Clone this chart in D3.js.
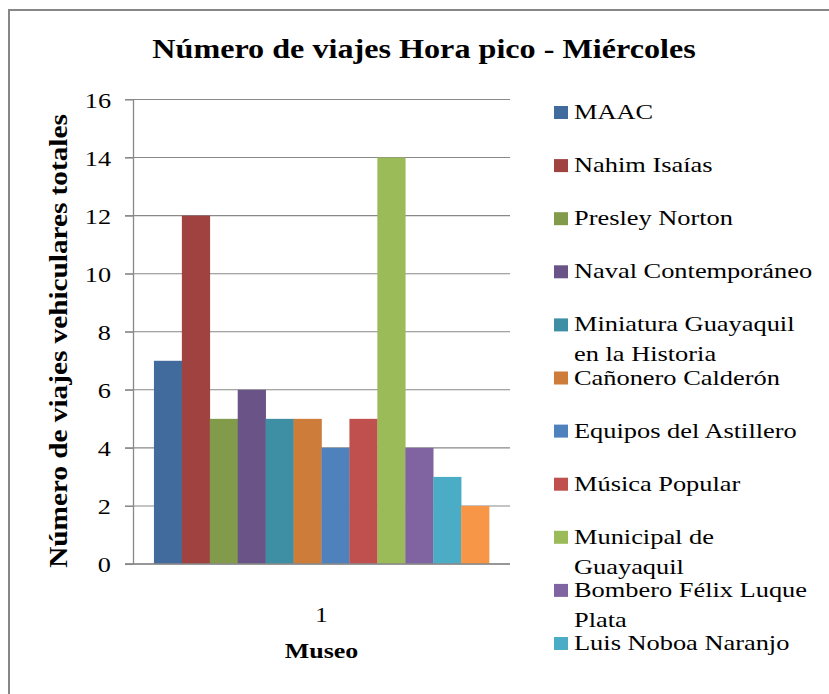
<!DOCTYPE html>
<html>
<head>
<meta charset="utf-8">
<script src="https://cdn.jsdelivr.net/npm/d3@7"></script>
<style>
  html, body { margin: 0; padding: 0; background: #fff; }
  svg { display: block; }
  text { font-family: "Liberation Serif", "Times New Roman", serif; fill: #000; }
</style>
</head>
<body>
<svg id="chart" width="829" height="694"></svg>
<script>
// ---- data ----
const categories = ["1"];
const seriesNames = [
  "MAAC",
  "Nahim Isaías",
  "Presley Norton",
  "Naval Contemporáneo",
  "Miniatura Guayaquil en la Historia",
  "Cañonero Calderón",
  "Equipos del Astillero",
  "Música Popular",
  "Municipal de Guayaquil",
  "Bombero Félix Luque Plata",
  "Luis Noboa Naranjo",
  "Serie 12"
];
const seriesValues = [7, 12, 5, 6, 5, 5, 4, 5, 14, 4, 3, 2];
const seriesColors = [
  "#426B9D", "#9F4240", "#819B4A", "#6A5386", "#3E8FA4", "#CD7C3A",
  "#4F81BD", "#C0504D", "#9BBB59", "#8064A2", "#4BACC6", "#F79646"
];
const yTicks = [0, 2, 4, 6, 8, 10, 12, 14, 16];
const titleText = "Número de viajes Hora pico - Miércoles";
const yTitleText = "Número de viajes vehiculares totales";
const xTitleText = "Museo";

// ---- layout ----
const svg = d3.select("#chart");
const H = 694;
const plot = { left: 133, right: 510, top: 99.5, bottom: 564 };
const SX = 1.18; // horizontal text stretch

// outer border
svg.append("rect")
  .attr("x", 9).attr("y", 10).attr("width", 840).attr("height", 700)
  .attr("fill", "none").attr("stroke", "#878787").attr("stroke-width", 2);

const y = d3.scaleLinear().domain([0, 16]).range([plot.bottom, plot.top]);
const x = d3.scaleBand().domain(categories).range([plot.left, plot.right]).padding(0);
const B = x.bandwidth();
const w = B / 13.5;
const xs = d3.scaleBand().domain(seriesNames).range([0.75 * w, B - 0.75 * w]).padding(0);

// gridlines
svg.append("g").selectAll("line").data(yTicks).join("line")
  .attr("x1", plot.left - 8).attr("x2", plot.right)
  .attr("y1", d => y(d)).attr("y2", d => y(d))
  .attr("stroke", "#898989").attr("stroke-width", 1.1);

// bars
const rows = seriesNames.map((n, i) => ({ name: n, value: seriesValues[i], color: seriesColors[i], cat: categories[0] }));
svg.append("g").selectAll("rect").data(rows).join("rect")
  .attr("x", d => x(d.cat) + xs(d.name))
  .attr("width", xs.bandwidth() + 0.3)
  .attr("y", d => y(d.value))
  .attr("height", d => y(0) - y(d.value))
  .attr("fill", d => d.color);

// y axis
const yAxis = svg.append("g").attr("transform", `translate(${plot.left},0)`)
  .call(d3.axisLeft(y).tickValues(yTicks).tickSizeInner(8).tickSizeOuter(0));
yAxis.select(".domain").attr("stroke", "#898989").attr("stroke-width", 1.3);
yAxis.selectAll(".tick line").attr("stroke", "#898989").attr("stroke-width", 1.1);
yAxis.selectAll(".tick text")
  .attr("x", 0).attr("dy", 0)
  .attr("transform", "translate(-22,7.5) scale(1.25,1)")
  .style("font-size", "21px").style("font-family", "'Liberation Serif', serif").attr("fill", "#000");

// x axis
const xAxis = svg.append("g").attr("transform", `translate(0,${plot.bottom})`)
  .call(d3.axisBottom(x).tickSize(0).tickSizeOuter(0));
xAxis.select(".domain").remove();
xAxis.selectAll(".tick text")
  .attr("y", 0).attr("dy", 0)
  .attr("transform", `translate(0,58) scale(${SX},1)`)
  .style("font-size", "21px").style("font-family", "'Liberation Serif', serif").attr("fill", "#000");
svg.append("line")
  .attr("x1", plot.left - 8).attr("x2", plot.right)
  .attr("y1", y(0)).attr("y2", y(0))
  .attr("stroke", "#898989").attr("stroke-width", 1.3);

// titles
svg.append("text")
  .attr("transform", `translate(424,58) scale(1.17,1)`)
  .attr("text-anchor", "middle")
  .style("font-size", "27.5px").style("font-weight", "bold")
  .text(titleText);

svg.append("text")
  .attr("transform", `translate(67,341) rotate(-90) scale(1.17,1)`)
  .attr("text-anchor", "middle")
  .style("font-size", "25px").style("font-weight", "bold")
  .text(yTitleText);

svg.append("text")
  .attr("transform", `translate(${x(categories[0]) + B / 2},658) scale(${SX},1)`)
  .attr("text-anchor", "middle")
  .style("font-size", "22px").style("font-weight", "bold")
  .text(xTitleText);

// legend
const legFont = 22;
const legSX = 1.2;
const legend = svg.append("g");
const measure = svg.append("text").style("font-size", legFont + "px").attr("visibility", "hidden");
function wrap(str) {
  const words = str.split(" ");
  const lines = [];
  let cur = "";
  const maxW = 9.3 * legFont;
  words.forEach(wd => {
    const test = cur ? cur + " " + wd : wd;
    measure.text(test);
    if (cur && measure.node().getComputedTextLength() > maxW) {
      lines.push(cur); cur = wd;
    } else cur = test;
  });
  if (cur) lines.push(cur);
  return lines;
}
const legStart = 119, legStep = 53.1;
rows.forEach((d, i) => {
  const by = legStart + i * legStep;
  const lines = wrap(d.name);
  // entries that do not fit in the chart area are not shown (as in the original)
  if (by + (lines.length - 1) * 30 + 6 > H - 2) return;
  const g = legend.append("g");
  g.append("rect").attr("x", 554).attr("y", by - 13).attr("width", 14).attr("height", 13).attr("fill", d.color);
  const t = g.append("text")
    .attr("transform", `translate(574,${by}) scale(${legSX},1)`)
    .style("font-size", legFont + "px");
  lines.forEach((ln, k) => {
    t.append("tspan").attr("x", 0).attr("y", k * 30).text(ln);
  });
});
measure.remove();
</script>
</body>
</html>
